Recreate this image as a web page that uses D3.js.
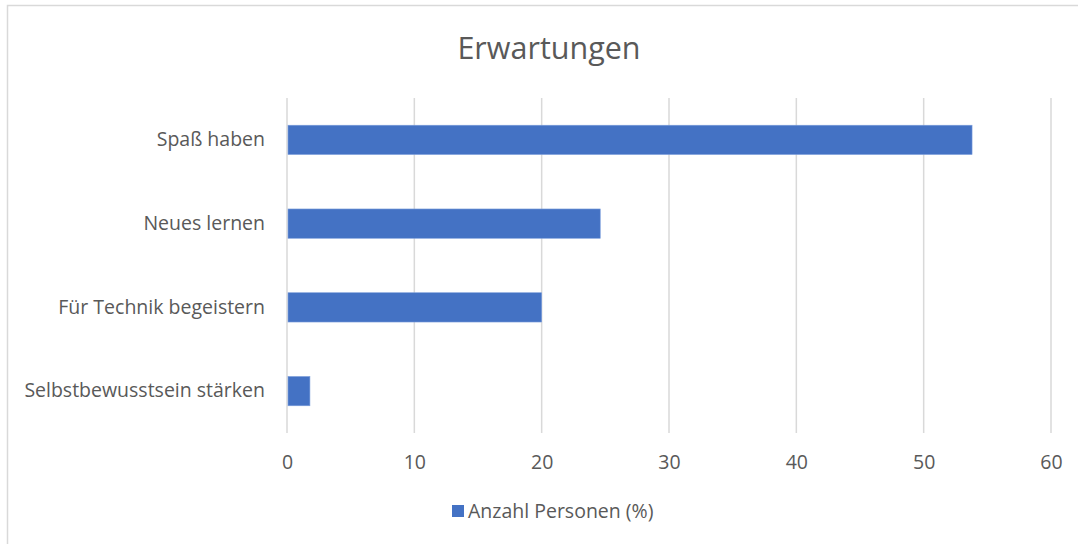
<!DOCTYPE html>
<html>
<head>
<meta charset="utf-8">
<script src="https://d3js.org/d3.v7.min.js"></script>
<style>
  body { margin: 0; background: #fff; }
  text { font-family: "Open Sans", "Noto Sans", sans-serif; fill: #595959; }
</style>
</head>
<body>
<svg width="1078" height="544"></svg>
<script>
const categories = ["Spaß haben", "Neues lernen", "Für Technik begeistern", "Selbstbewusstsein stärken"];
const values = [53.8, 24.6, 20.0, 1.8];
const xTicks = [0, 10, 20, 30, 40, 50, 60];
const seriesName = "Anzahl Personen (%)";

const svg = d3.select("svg");

// chart frame
svg.append("rect")
    .attr("x", 7.5).attr("y", 5.5)
    .attr("width", 1080).attr("height", 560)
    .attr("fill", "none")
    .attr("stroke", "#d9d9d9")
    .attr("stroke-width", 1.5);

const margin = {top: 98, right: 27, bottom: 111, left: 287};
const width = 1078 - margin.left - margin.right;
const height = 544 - margin.top - margin.bottom;

const g = svg.append("g")
    .attr("transform", `translate(${margin.left},${margin.top})`);

const x = d3.scaleLinear().domain([0, 60]).range([0, width]);
const y = d3.scaleBand().domain(categories).range([0, height]).paddingInner(0.65).paddingOuter(0.325);

// gridlines
g.selectAll(".grid")
    .data(xTicks)
    .enter()
    .append("line")
    .attr("x1", d => x(d)).attr("x2", d => x(d))
    .attr("y1", 0).attr("y2", height)
    .attr("stroke", "#d9d9d9")
    .attr("stroke-width", 1.5);

// bars
g.selectAll(".bar")
    .data(categories)
    .enter()
    .append("rect")
    .attr("x", x(0) + 1)
    .attr("y", d => y(d))
    .attr("width", (d, i) => x(values[i]) - x(0) - 1)
    .attr("height", y.bandwidth())
    .attr("fill", "#4472c4")
    .attr("stroke", "#7d9fdc")
    .attr("stroke-width", 0.6);

// x axis labels
const xAxis = g.append("g")
    .attr("transform", `translate(0,${height})`)
    .call(d3.axisBottom(x).tickValues(xTicks).tickSize(0).tickPadding(22));
xAxis.select(".domain").remove();
xAxis.selectAll("text")
    .style("font-size", "19.5px")
    .style("fill", "#595959")
    .style("font-family", "'Open Sans', sans-serif");

// y axis labels
const yAxis = g.append("g")
    .call(d3.axisLeft(y).tickSize(0).tickPadding(22));
yAxis.select(".domain").remove();
yAxis.selectAll("text")
    .style("font-size", "19.5px")
    .style("fill", "#595959")
    .style("font-family", "'Open Sans', sans-serif");

// title
svg.append("text")
    .attr("x", 549).attr("y", 59)
    .attr("text-anchor", "middle")
    .style("font-size", "30.5px")
    .text("Erwartungen");

// legend
const legend = svg.append("g").attr("transform", "translate(452,505)");
legend.append("rect")
    .attr("width", 12).attr("height", 12)
    .attr("fill", "#4472c4");
legend.append("text")
    .attr("x", 16).attr("y", 13)
    .style("font-size", "19.5px")
    .text(seriesName);
</script>
</body>
</html>
